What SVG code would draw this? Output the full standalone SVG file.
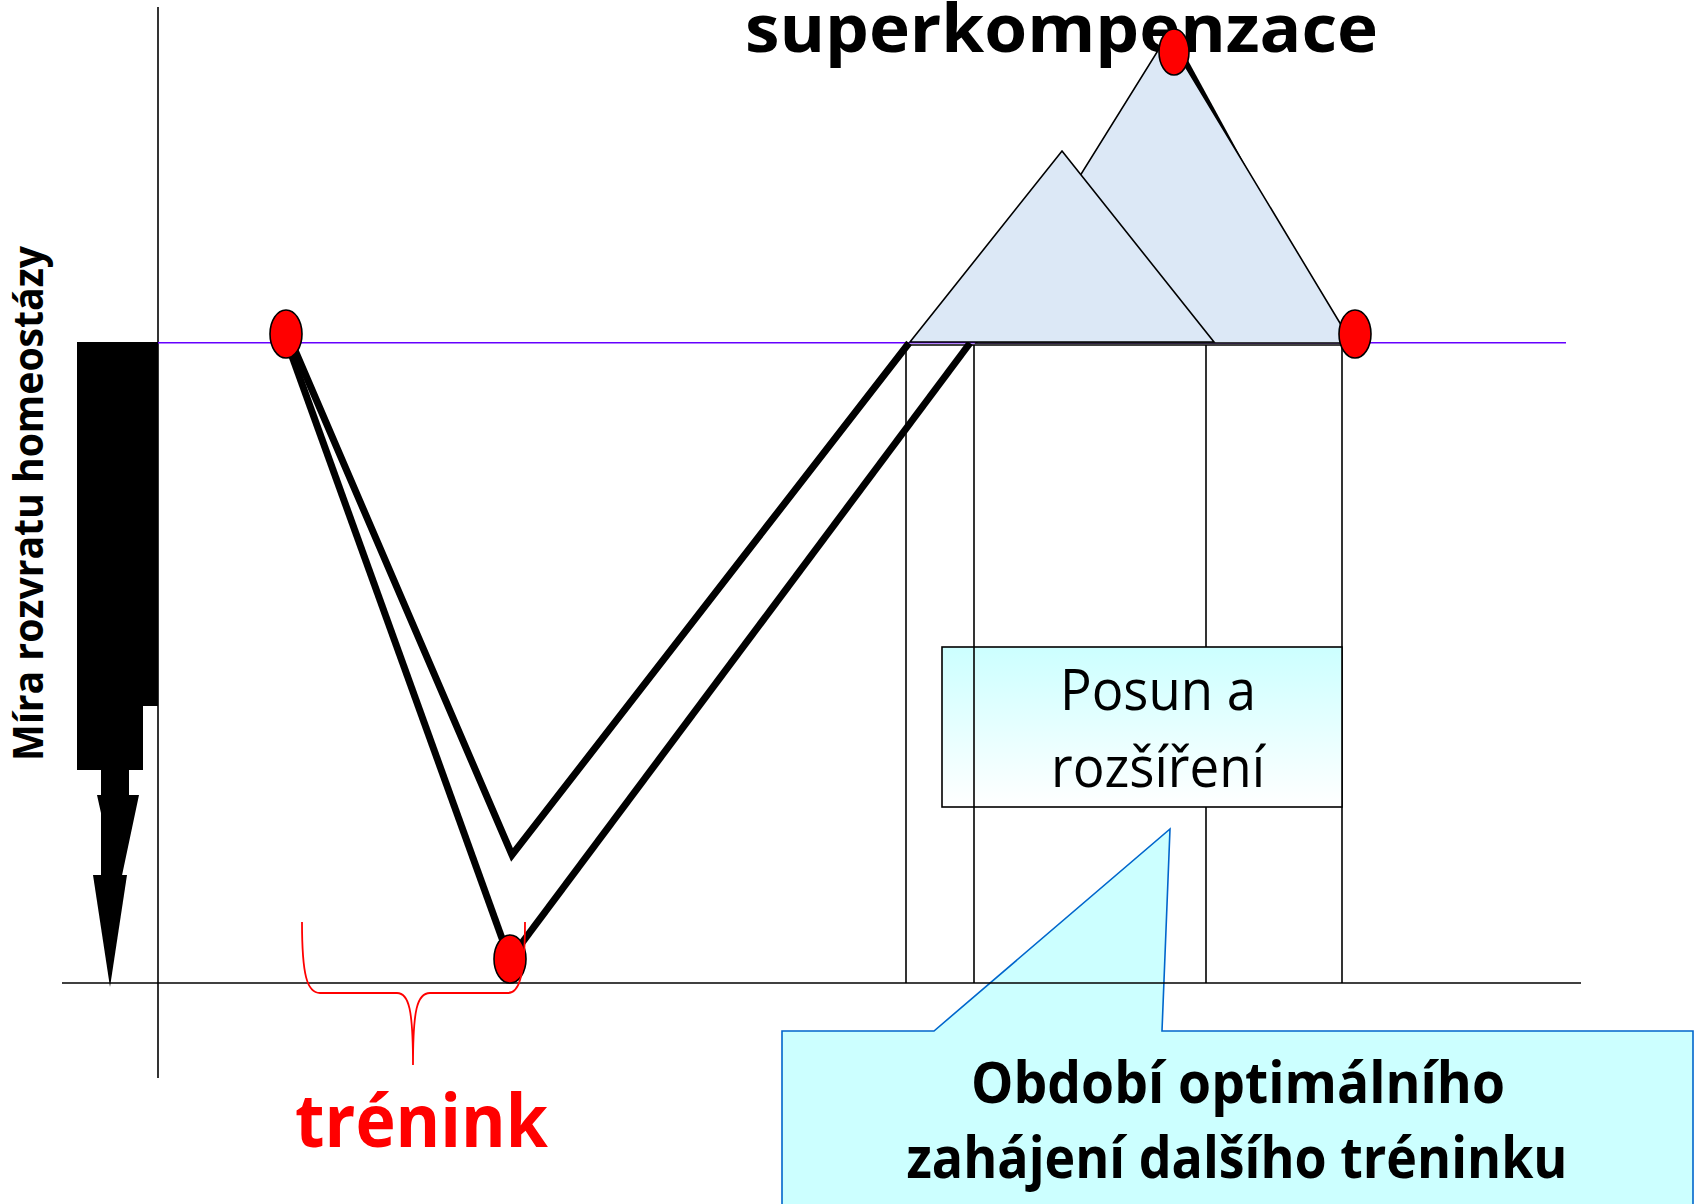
<svg xmlns="http://www.w3.org/2000/svg" width="1696" height="1204" viewBox="0 0 1696 1204">
<defs>
<style>
.ax{stroke:#000;stroke-width:1.6;fill:none}
.thk{stroke:#000;stroke-width:7;fill:none;stroke-linejoin:miter;stroke-linecap:butt}
.thin{stroke:#000;stroke-width:1.6;fill:none}
.tri{fill:#DCE8F6;stroke:#000;stroke-width:1.6;stroke-linejoin:miter}
.dot{fill:#FF0000;stroke:#000;stroke-width:1.6}
.bold{font-family:"Open Sans","Liberation Sans",sans-serif;font-weight:bold}
.reg{font-family:"Open Sans","Liberation Sans",sans-serif}
</style>
<linearGradient id="boxg" x1="0" y1="0" x2="0" y2="1">
<stop offset="0" stop-color="#CCFFFF"/>
<stop offset="1" stop-color="#FFFFFF"/>
</linearGradient>
</defs>
<rect width="1696" height="1204" fill="#FFFFFF"/>

<g id="axes">
<line class="ax" x1="158" y1="7" x2="158" y2="1078"/>
<line x1="158" y1="342.7" x2="1566" y2="342.7" stroke="#6600FF" stroke-width="1.6"/>
</g>

<g id="y-arrow">
<polygon points="77,342 158,342 158,706 143,706 143,770 77,770" fill="#000"/>
<polygon points="101,770 129,770 129,795 139,795 118.5,892 97,795 101,795" fill="#000"/>
<rect x="101" y="795" width="16" height="82" fill="#000"/>
<polygon points="93,875 127,875 110,987" fill="#000"/>
</g>

<g id="y-label">
<text class="bold" font-size="41" transform="translate(43,761) rotate(-90)" textLength="515" lengthAdjust="spacingAndGlyphs">Míra rozvratu homeostázy</text>
</g>

<g id="title">
<text class="bold" x="745" y="52" font-size="66" textLength="633" lengthAdjust="spacingAndGlyphs">superkompenzace</text>
</g>

<g id="connectors">
<line class="thk" x1="284" y1="334" x2="508" y2="955"/>
<polyline class="thk" points="288,334 512,855 909,343"/>
<line class="thk" x1="510" y1="959" x2="970" y2="343"/>
<line class="thk" x1="1181" y1="55" x2="1252" y2="185"/>
</g>

<g id="supercomp-triangles">
<polygon class="tri" points="1167,36 1352,343 976,343"/>
<polygon class="tri" points="1062,151 1214,342 910,342"/>
</g>

<g id="period-lines">
<line class="thin" x1="906" y1="345" x2="1342" y2="345"/>
<line class="thin" x1="906" y1="345" x2="906" y2="983"/>
<line class="thin" x1="1206" y1="345" x2="1206" y2="983"/>
<line class="thin" x1="1342" y1="345" x2="1342" y2="983"/>
</g>

<g id="posun-box">
<rect x="942" y="647" width="400" height="160" fill="url(#boxg)" stroke="#000" stroke-width="1.6"/>
<text class="reg" x="1158" y="710" font-size="56" text-anchor="middle" textLength="196" lengthAdjust="spacingAndGlyphs">Posun a</text>
<text class="reg" x="1158" y="787" font-size="56" text-anchor="middle" textLength="214" lengthAdjust="spacingAndGlyphs">rozšíření</text>
</g>
<line class="thin" x1="974" y1="345" x2="974" y2="983"/>

<g id="callout">
<polygon points="782,1031 934,1031 1170,829 1162,1031 1693,1031 1693,1212 782,1212" fill="#CCFFFF" stroke="#0066CC" stroke-width="1.6"/>
<text class="bold" x="1238" y="1103" font-size="57" text-anchor="middle" textLength="534" lengthAdjust="spacingAndGlyphs">Období optimálního</text>
<text class="bold" x="1237" y="1178" font-size="57" text-anchor="middle" textLength="661" lengthAdjust="spacingAndGlyphs">zahájení dalšího tréninku</text>
</g>

<line class="ax" x1="62" y1="983" x2="1581" y2="983"/>

<g id="dots">
<ellipse class="dot" cx="286" cy="334" rx="16" ry="24"/>
<ellipse class="dot" cx="510" cy="959" rx="16" ry="24"/>
<ellipse class="dot" cx="1174" cy="52" rx="15" ry="23"/>
<ellipse class="dot" cx="1355" cy="334" rx="16" ry="24"/>
</g>

<g id="trenink">
<path d="M302,922 C302,975 307,993 320,993 L397,993 C409,993 413,1010 413,1065 C413,1010 417,993 430,993 L508,993 C518,993 525,980 525,922" fill="none" stroke="#FF0000" stroke-width="1.8"/>
<text class="bold" x="295" y="1147" font-size="74" fill="#FF0000" textLength="253" lengthAdjust="spacingAndGlyphs">trénink</text>
</g>
</svg>
